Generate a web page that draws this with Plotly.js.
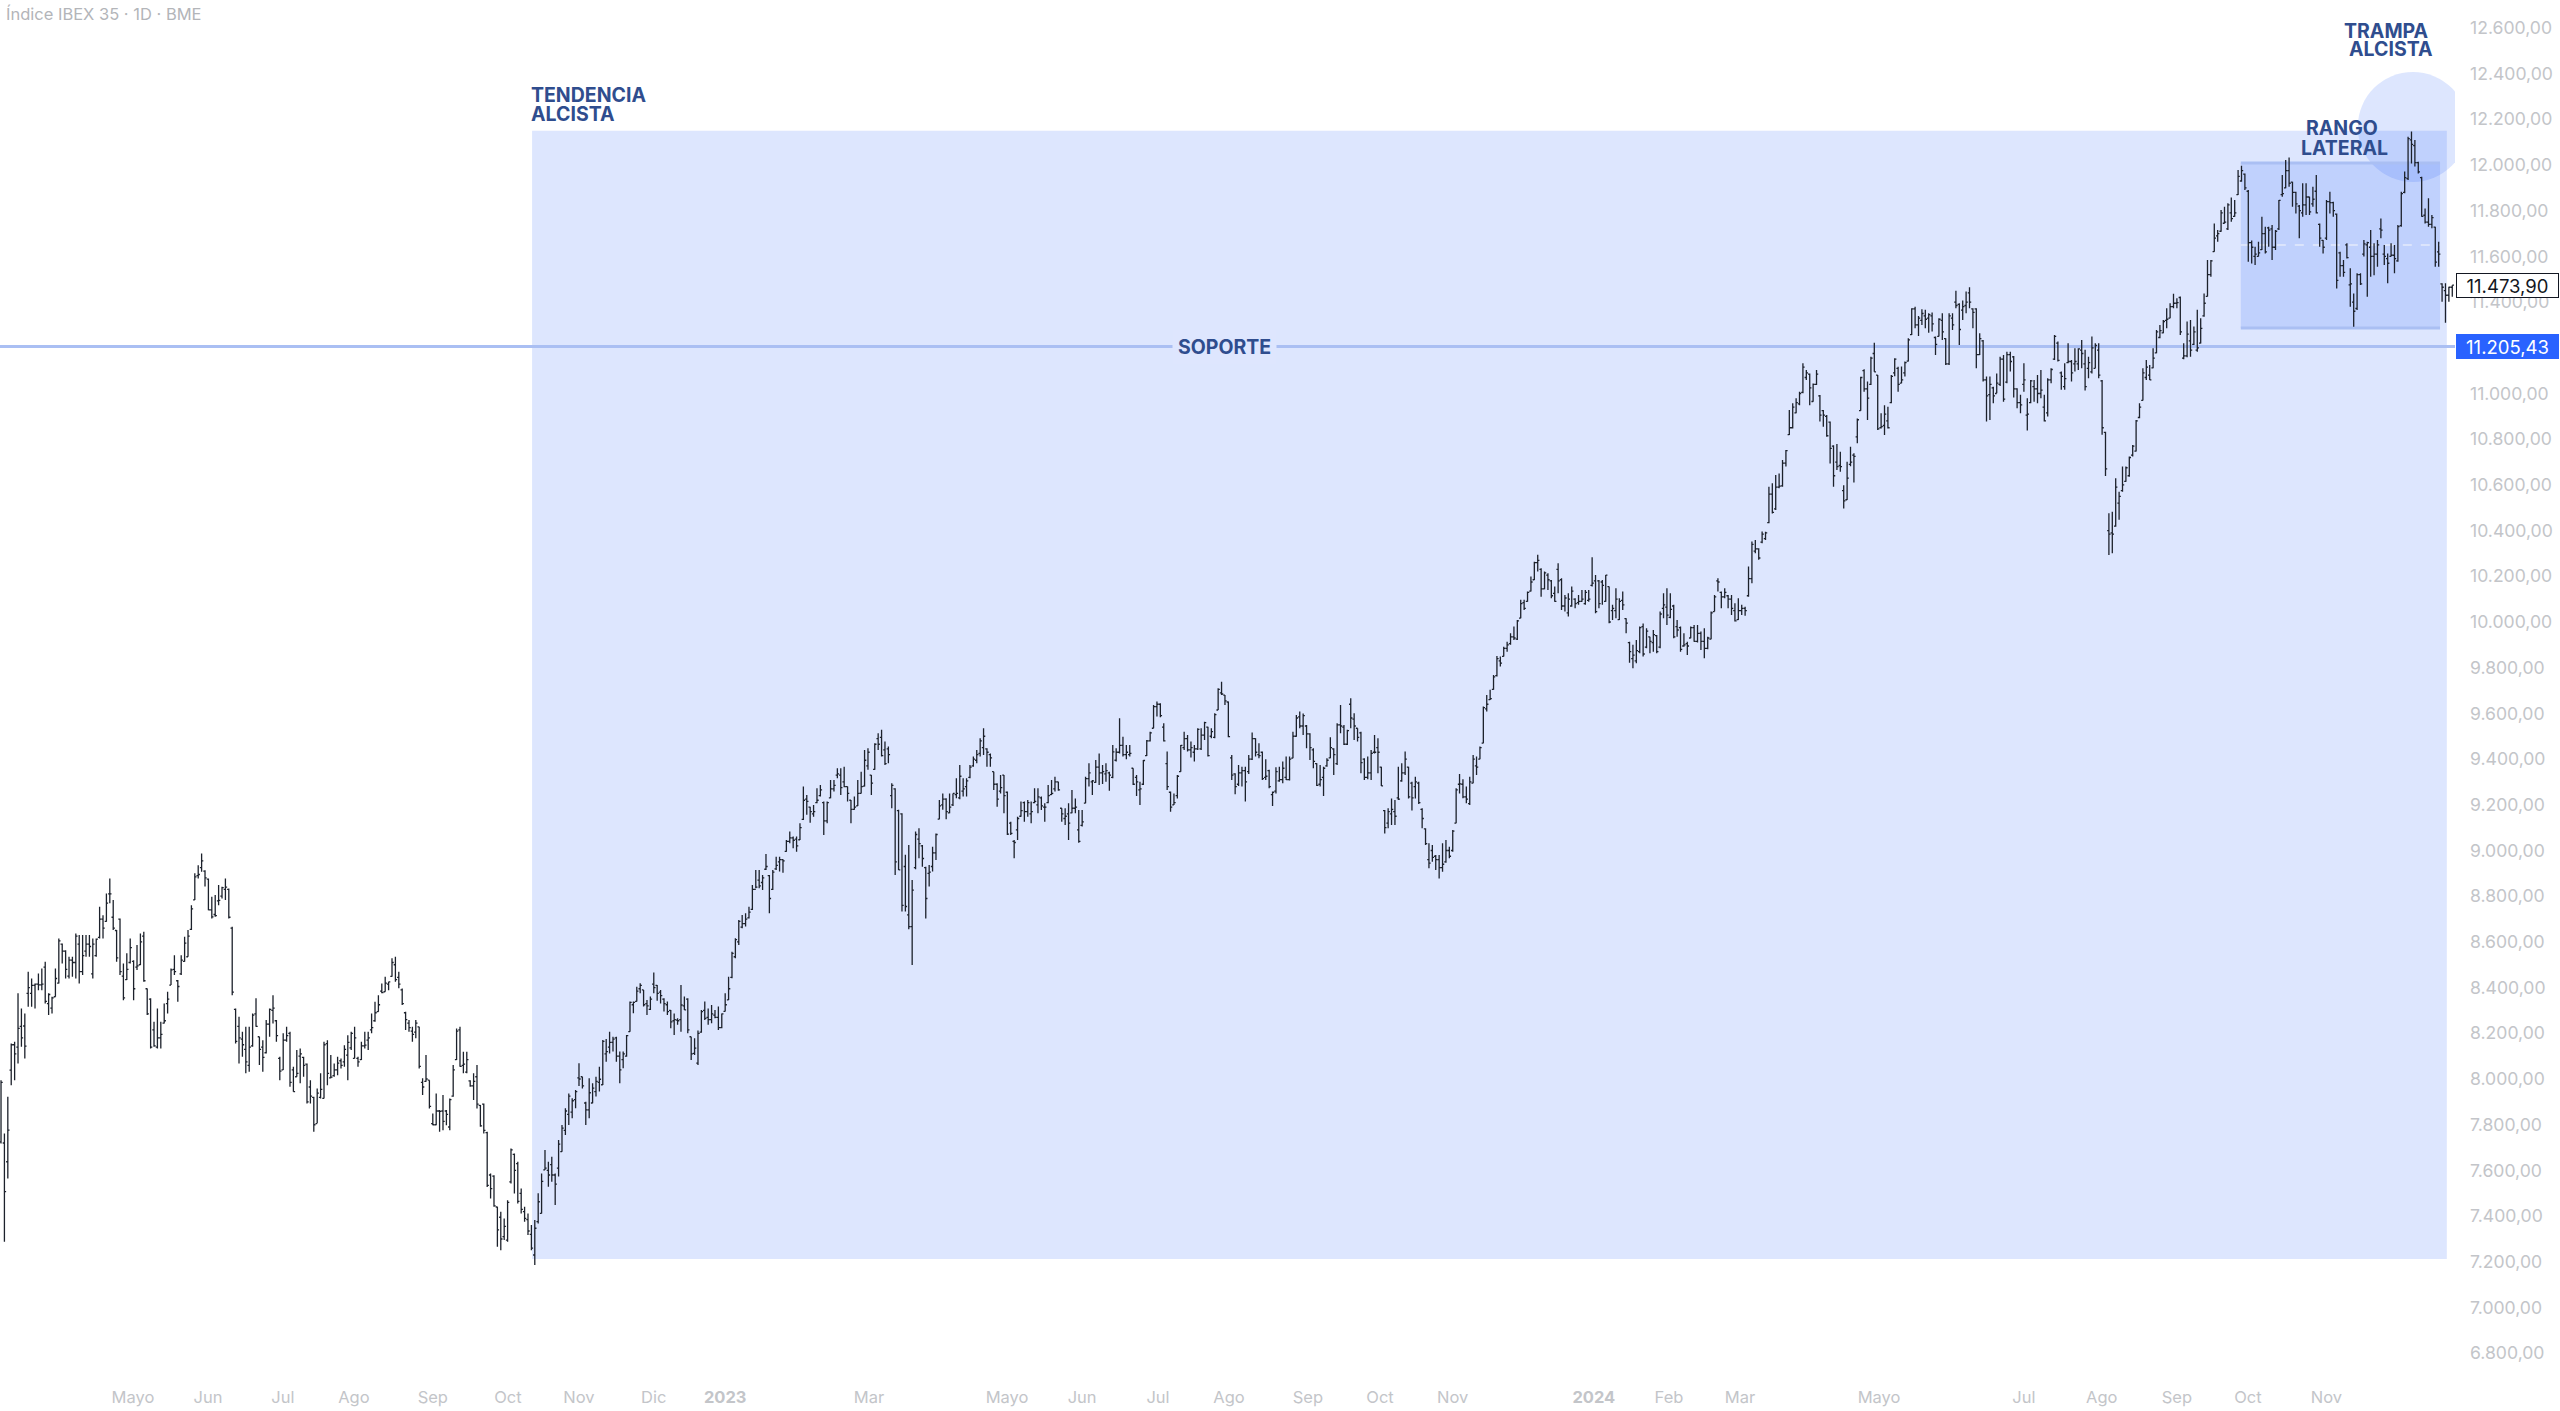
<!DOCTYPE html>
<html><head><meta charset="utf-8"><script src="https://cdn.plot.ly/plotly-3.0.1.min.js"></script>
<style>html,body{margin:0;padding:0;background:#fff}#c{width:2560px;height:1411px}</style></head><body><div id="c"></div><script>
// Each row holds bars as open,high,low,close.
const tramo2022a=[
7725,7995,7718,7985,7720,7762,7288,7507,7638,7922,7565,7776,8039,8156,7973,8150,8150,8163,7995,8110,8140,8375,8068,8222,8230,8309,8141,8180,8232,8287,8090,8144,8375,8470,8316,8400,8375,8440,8316,8410,
8410,8418,8309,8415,8415,8462,8389,8412,8412,8484,8389,8415,8490,8513,8331,8340,8330,8375,8280,8370,8310,8360,8287,8355,8360,8484,8360,8440,8420,8615,8418,8605,8590,8593,8506,8560,8560,8564,8440,8480,
8450,8535,8440,8520,8520,8535,8448,8510,8510,8637,8440,8625,8590,8630,8418,8470,8470,8630,8455,8540,8560,8630,8535,8590,8590,8630,8535,8580,8460,8615,8440,8590,8540,8615,8535,8612,8620,8754,8615,8700,
8700,8717,8615,8660,8690,8812,8688,8770,8810,8878,8769,8810,8708,8783,8652,8660,8650,8652,8513,8530,8700,8703,8455,8470,8450,8506,8345,8355,8435,8550,8433,8480,8510,8615,8506,8575,8515,8520,8345,8395,
8490,8586,8477,8495,8500,8637,8499,8600,8625,8645,8426,8430,8395,8396,8280,8285,8350,8353,8134,8140,8215,8251,8141,8145,8140,8309,8134,8180,8180,8251,8134,8195,8245,8331,8243,8255,8330,8382,8287,8350,
8411,8484,8411,8478,8480,8542,8455,8470,8430,8433,8338,8405,8460,8542,8455,8520,8515,8623,8513,8595,8535,8652,8535,8625,8655,8761,8652,8745,8784,8900,8783,8885,8890,8936,8878,8895,8925,8987,8907,8955,
8910,8914,8842,8880,8875,8878,8739,8740,8740,8798,8703,8710,8720,8805,8710,8715,8780,8849,8761,8782,8800,8841,8790,8838,8830,8878,8783,8840,8830,8834,8703,8708,8660,8666,8367,8380];
const tramo2022b=[
8305,8309,8156,8165,8230,8272,8068,8180,8175,8207,8097,8150,8130,8229,8025,8075,8060,8229,8032,8140,8145,8287,8141,8280,8285,8353,8229,8230,8185,8185,8061,8130,8140,8170,8032,8095,8115,8258,8112,8240,
8240,8309,8185,8305,8300,8367,8243,8310,8255,8258,8163,8190,8090,8097,7995,8035,8040,8200,8039,8170,8170,8229,8163,8190,8200,8207,7966,7985,8040,8054,7944,7945,8010,8127,8010,8025,8100,8134,7981,8110,
8095,8097,8010,8060,8065,8068,7893,7900,7965,7995,7893,7925,7920,7922,7769,7800,7805,7959,7806,7938,7920,8025,7915,7955,7915,8163,7915,8150,8155,8170,7973,8025,8005,8105,8003,8008,8015,8068,8010,8040,
8040,8097,8017,8070,8080,8090,8046,8060,8075,8148,8054,8130,8105,8192,7995,8160,8136,8207,8127,8200,8090,8229,8090,8180,8090,8097,8054,8075,8085,8163,8083,8145,8145,8207,8134,8148,8170,8207,8127,8180,
8215,8287,8200,8225,8255,8338,8251,8290,8295,8367,8294,8325,8385,8418,8375,8378,8382,8448,8382,8420,8415,8426,8389,8425,8449,8528,8448,8510,8500,8535,8426,8435,8445,8469,8397,8415,8390,8396,8324,8330,
8290,8294,8214,8260,8245,8258,8207,8225,8210,8229,8163,8195,8205,8258,8178,8245,8228,8229,8046,8055,7985,8003,7930,7965,7990,8105,7988,8000,7995,7995,7871,7880,7805,7849,7798,7800,7800,7937,7798,7860,
7860,7864,7769,7858,7860,7930,7776,7815,7860,7864,7798,7845,7790,7915,7776,7910,7925,8061,7922,8040,8085,8221,8083,8210,8215,8229,8054,8055,8060,8119,8025,8065,8030,8119,8025,8085,7992,7995,7966,7970,
7970,8025,7908,7990,8010,8061,7871,7890,7885,7886,7791,7795,7890,7893,7762,7775,7765,7769,7528,7535,7580,7587,7477,7520,7575,7579,7441,7445,7440,7441,7266,7340,7395,7419,7251,7300,7310,7390,7295,7355,
7295,7470,7288,7460,7550,7696,7543,7690,7670,7674,7499,7600,7630,7638,7455,7465,7500,7521,7412,7430,7420,7441,7375,7390,7385,7412,7317,7335,7320,7361,7251,7260,7230,7383,7186,7347];
const tramo2023a=[
7376,7500,7368,7463,7412,7587,7412,7552,7602,7689,7602,7610,7600,7638,7529,7580,7625,7660,7551,7580,7580,7587,7449,7540,7610,7733,7573,7715,7682,7799,7682,7785,7775,7872,7755,7860,7845,7937,7799,7925,
7855,7916,7828,7905,7910,7952,7872,7945,8005,8069,7969,8000,8010,8010,7959,7970,7895,7901,7799,7865,7865,8003,7828,7940,7895,7981,7894,7960,7945,8010,7923,7990,7985,8054,7945,7999,7975,8171,7974,8165,
8110,8175,8076,8120,8140,8207,8112,8160,8160,8185,8120,8175,8180,8185,8076,8100,8100,8120,7981,8040,8085,8120,8047,8110,8100,8193,8098,8190,8207,8339,8207,8335,8325,8339,8288,8335,8340,8404,8339,8385,
8395,8419,8375,8410,8390,8390,8317,8325,8330,8346,8280,8320,8305,8361,8302,8350,8415,8466,8375,8400,8410,8412,8343,8375,8380,8390,8331,8365,8350,8353,8295,8330,8325,8339,8280,8295,8300,8302,8222,8250,
8255,8287,8193,8260,8258,8266,8237,8255,8260,8412,8207,8324,8320,8361,8302,8303,8350,8353,8200,8215,8185,8185,8083,8110,8112,8178,8105,8135,8070,8212,8061,8200,8205,8302,8203,8295,8300,8339,8258,8265,
8270,8309,8237,8260,8260,8324,8244,8285,8280,8302,8266,8270,8270,8317,8215,8225,8225,8287,8222,8285,8296,8375,8295,8325,8346,8448,8346,8395,8445,8557,8441,8550,8535,8616,8528,8610,8600,8696,8587,8690,
8665,8718,8660,8680,8680,8725,8667,8700,8705,8754,8703,8730,8742,8849,8740,8830,8830,8915,8835,8840,8870,8915,8835,8845,8860,8893,8827,8880,8918,8985,8915,8930,8890,8893,8725,8790,8830,8915,8827,8905,
8920,8973,8915,8935,8950,8973,8908,8960,8960,8962,8903,8955,8996,9046,8995,9040,9040,9083,9032,9055,9055,9061,9010,9045,9050,9061,8995,9020,9047,9119,9046,9100,9136,9280,9134,9220,9225,9243,9156,9215,
9190,9192,9122,9170,9160,9199,9148,9170,9210,9272,9207,9220,9240,9287,9236,9265,9210,9214,9068,9130,9130,9214,9119,9210,9230,9309,9229,9270,9270,9309,9258,9285,9330,9360,9316,9335,9330,9360,9243,9275];
const tramo2023b=[
9300,9367,9277,9280,9280,9280,9214,9250,9220,9221,9119,9180,9180,9236,9178,9190,9195,9309,9195,9250,9250,9345,9250,9280,9282,9440,9280,9395,9370,9447,9353,9430,9330,9331,9243,9295,9355,9469,9353,9465,
9490,9513,9440,9465,9495,9528,9411,9415,9440,9477,9374,9380,9445,9455,9382,9420,9240,9294,9185,9285,9270,9272,8893,8950,9175,9178,8915,8915,9160,9163,8733,8760,8930,8981,8733,8755,8718,9024,8655,8667,
8667,8871,8499,8827,8925,9083,8918,9070,9050,9097,8966,9030,9020,9024,8929,8965,8925,8929,8703,8790,8900,8937,8842,8905,8930,9017,8908,8990,8990,9075,8959,9070,9137,9221,9137,9195,9200,9250,9178,9225,
9225,9229,9137,9170,9165,9250,9163,9190,9200,9250,9195,9250,9245,9316,9229,9250,9230,9374,9224,9325,9260,9316,9236,9270,9280,9316,9236,9305,9320,9374,9316,9365,9370,9411,9367,9400,9395,9440,9382,9420,
9425,9491,9411,9480,9450,9535,9418,9500,9445,9447,9367,9430,9420,9425,9367,9405,9345,9345,9265,9290,9290,9294,9192,9225,9260,9331,9250,9275,9330,9331,9163,9240,9255,9258,9068,9072,9120,9126,9068,9075,
9040,9046,8966,9035,9090,9148,9046,9140,9150,9214,9148,9175,9210,9214,9126,9170,9170,9221,9148,9210,9160,9214,9119,9170,9210,9272,9207,9215,9200,9272,9163,9235,9230,9236,9177,9195,9190,9207,9126,9190,
9210,9287,9207,9240,9245,9309,9243,9250,9270,9323,9258,9300,9300,9301,9262,9265,9185,9185,9126,9160,9140,9185,9112,9150,9160,9207,9046,9120,9165,9265,9163,9185,9185,9228,9163,9190,9090,9177,9034,9040,
9110,9177,9105,9125,9207,9323,9207,9315,9315,9382,9280,9340,9300,9309,9243,9305,9298,9396,9297,9365,9365,9425,9287,9340,9340,9374,9291,9345,9335,9382,9301,9350,9340,9345,9262,9330,9320,9462,9316,9432,
9395,9447,9389,9430,9430,9579,9425,9460,9460,9498,9411,9420,9420,9462,9399,9430,9420,9462,9411,9425,9360,9360,9287,9290,9320,9331,9239,9300,9265,9301,9199,9270,9290,9396,9287,9394,9415,9484,9414,9480,
9480,9520,9477,9515,9535,9637,9535,9630,9630,9652,9586,9640,9640,9644,9583,9590,9540,9557,9477,9480,9380,9433,9265,9280,9255,9258,9170,9190,9200,9250,9199,9210,9240,9331,9228,9325,9345,9462,9345,9460];
const tramo2023c=[
9450,9520,9440,9490,9490,9506,9433,9440,9440,9477,9407,9450,9430,9462,9389,9445,9445,9535,9440,9530,9445,9535,9440,9505,9505,9564,9484,9560,9540,9542,9411,9415,9500,9535,9491,9520,9495,9601,9491,9595,
9615,9710,9615,9705,9690,9739,9681,9685,9680,9681,9637,9655,9650,9652,9496,9498,9405,9418,9309,9330,9335,9338,9246,9280,9290,9374,9282,9340,9340,9367,9280,9350,9350,9367,9214,9300,9345,9418,9335,9400,
9400,9516,9396,9490,9490,9491,9411,9430,9420,9469,9404,9415,9430,9433,9309,9315,9320,9399,9309,9325,9350,9353,9272,9280,9245,9258,9195,9255,9260,9364,9250,9345,9305,9367,9301,9310,9310,9389,9294,9360,
9320,9411,9309,9310,9310,9411,9306,9400,9404,9520,9404,9500,9500,9593,9498,9580,9585,9608,9535,9545,9545,9600,9506,9590,9545,9549,9447,9510,9510,9513,9396,9450,9440,9447,9360,9390,9380,9382,9282,9285,
9290,9374,9280,9310,9320,9367,9239,9360,9370,9404,9367,9395,9405,9496,9404,9450,9445,9447,9331,9420,9380,9557,9374,9550,9550,9637,9513,9545,9540,9549,9462,9465,9465,9528,9462,9525,9640,9666,9535,9580,
9575,9601,9484,9545,9535,9535,9477,9495,9515,9520,9338,9385,9400,9404,9309,9320,9320,9411,9312,9340,9340,9440,9309,9425,9430,9506,9425,9430,9450,9491,9338,9430,9365,9367,9282,9283,9175,9177,9075,9100,
9120,9185,9097,9170,9160,9228,9112,9180,9170,9221,9112,9150,9230,9367,9221,9225,9305,9382,9301,9340,9340,9433,9331,9400,9365,9367,9228,9235,9295,9301,9175,9230,9280,9323,9228,9300,9295,9301,9204,9210,
9180,9185,9097,9140,9095,9097,9024,9030,8960,9032,8922,8945,9000,9024,8951,8970,8975,8980,8915,8960,8960,8980,8878,8925,8925,9032,8907,8940,8950,9046,8947,9000,9000,9017,8966,8975,9000,9090,8995,9085,
9120,9272,9119,9265,9290,9335,9250,9292,9290,9312,9229,9235,9235,9280,9207,9225,9205,9323,9199,9300,9295,9418,9294,9400,9370,9411,9331,9365,9400,9455,9399,9450,9470,9630,9469,9625,9620,9681,9608,9640,
9660,9703,9659,9665,9705,9768,9703,9760,9765,9851,9761,9840,9830,9849,9805,9820,9850,9892,9849,9885,9885,9914,9870,9900,9905,9951,9900,9935,9935,9980,9921,9930,9925,10009,9921,10005,10017,10097,10016,10080,
10085,10097,10053,10060,10090,10133,10089,10130,10135,10199,10133,10175,10185,10264,10184,10260,10260,10294,10221,10270,10230,10235,10111,10145,10145,10221,10143,10215,10205,10213,10140,10185,10180,10184,10104,10115,10125,10155,10089,10090,
10230,10257,10126,10180,10185,10191,10053,10070,10070,10118,10046,10105,10040,10126,10024,10100,10070,10155,10067,10135,10100,10104,10060,10080,10085,10118,10075,10090,10090,10140,10089,10100,10080,10140,10075,10130,10095,10140,10089,10100];
const tramo2024a=[
10160,10283,10155,10170,10180,10206,10038,10045,10180,10184,10060,10080,10175,10184,10075,10160,10090,10206,10089,10205,10155,10155,9995,10000,10050,10075,10009,10060,10050,10148,10016,10100,10010,10104,10009,10090,10095,10133,10053,10075,
10015,10016,9951,9995,9910,9914,9822,9870,9840,9900,9798,9855,9830,9921,9819,9875,9870,9980,9863,9975,9980,9994,9849,9860,9890,9973,9885,9960,9935,9936,9863,9915,9910,9965,9870,9945,9940,9943,9863,9870,
9890,10046,9885,10035,10060,10126,10016,10075,10065,10148,9987,10030,10020,10126,10016,10055,10070,10075,9929,9935,9980,10009,9936,9965,9975,9980,9870,9880,9895,9951,9892,9900,9905,9914,9856,9895,9930,9980,9929,9975,
9975,9987,9914,9915,9915,9987,9910,9950,9950,9958,9878,9915,9915,9973,9841,9885,9885,9936,9881,9930,9925,10046,9924,10040,10045,10118,10046,10110,10180,10191,10133,10175,10130,10133,10060,10110,10110,10148,10104,10130,
10115,10118,10060,10100,10100,10118,10031,10060,10050,10082,10002,10005,10010,10104,10009,10050,10050,10075,10031,10060,10060,10067,10027,10050,10115,10243,10111,10190,10190,10352,10170,10340,10310,10359,10301,10320,10320,10323,10272,10280,
10350,10396,10345,10385,10365,10395,10359,10390,10435,10592,10432,10560,10560,10607,10475,10480,10495,10643,10490,10590,10590,10650,10585,10595,10596,10709,10592,10695,10695,10753,10680,10750,10820,10928,10818,10850,10850,10957,10847,10940,
10915,10979,10913,10960,10955,11008,10949,11000,11005,11132,11001,11115,11070,11103,11059,11090,11085,11088,10949,11025,10965,11044,10964,11040,11040,11103,11037,11085,10990,10993,10877,10905,10925,10928,10855,10905,10900,10906,10811,10815,
10875,10877,10694,10760,10770,10774,10592,10640,10700,10779,10665,10680,10685,10745,10658,10680,10575,10599,10497,10530,10535,10701,10534,10630,10690,10767,10682,10700,10730,10738,10610,10725,10810,10891,10782,10885,10925,11073,10925,11070,
11100,11106,11008,11020,11020,11052,10884,10980,11040,11161,11037,11155,11175,11222,11095,11095,11080,11081,10840,10845,10850,10913,10847,10855,10860,10949,10818,10910,10880,10942,10847,10850,10960,11081,10957,11075,11090,11154,11076,11150,11110,11117,11008,11040];
const tramo2024b=[
11045,11118,11045,11060,11090,11140,11074,11135,11142,11242,11140,11235,11258,11373,11256,11370,11370,11380,11285,11300,11300,11339,11252,11330,11320,11369,11300,11350,11340,11366,11285,11325,11330,11351,11266,11345,11340,11354,11271,11305,
11245,11249,11169,11215,11250,11329,11249,11325,11320,11351,11234,11270,11240,11242,11125,11130,11130,11351,11125,11340,11330,11351,11278,11300,11400,11450,11373,11385,11390,11395,11212,11280,11365,11407,11322,11380,11385,11446,11351,11400,
11440,11465,11373,11400,11370,11373,11285,11355,11370,11373,11110,11170,11170,11264,11169,11240,11230,11234,11052,11060,11060,11074,10877,10990,10995,11074,10884,11040,11025,11030,10957,10990,11000,11088,11001,11045,11040,11161,11033,11150,
11150,11169,10964,10975,11050,11183,11045,11170,11170,11183,11096,11140,11160,11164,10983,11020,11020,11023,10935,10960,10960,10994,10913,10950,11040,11132,11008,11060,10905,10979,10838,10910,10960,11059,10957,11055,11030,11059,10964,11020,
11020,11081,10957,11000,11000,11103,10979,11015,10940,10994,10877,10880,10915,11067,10899,11060,11060,11110,11045,11105,11150,11256,11147,11250,11220,11227,11140,11145,11090,11096,11016,11075,11030,11132,11016,11065,11135,11220,11132,11140,
11140,11147,11052,11090,11130,11198,11096,11140,11130,11198,11103,11195,11190,11234,11110,11175,11130,11191,11013,11030,11110,11161,11067,11135,11095,11249,11088,11200,11110,11220,11110,11210,11190,11220,11067,11080,
11055,11059,10819,10850,10830,10833,10639,10670,10400,10476,10293,10385,10390,10483,10301,10385,10420,10629,10417,10590,10520,10570,10447,10550,10575,10680,10570,10600,10615,10680,10614,10675,10640,10724,10636,10720,10730,10775,10724,10770,
10748,10884,10746,10880,10895,10957,10892,10940,10970,11110,10969,11090,11070,11147,11059,11115,11080,11125,11059,11060,11112,11198,11110,11155,11178,11278,11176,11270,11245,11300,11242,11275,11265,11322,11264,11315,11320,11373,11285,11325,
11330,11395,11329,11380,11380,11436,11373,11395,11395,11417,11373,11398,11420,11424,11256,11270,11155,11220,11150,11165,11165,11315,11159,11260,11230,11322,11161,11190,11215,11293,11212,11270,11190,11366,11183,11200];
const tramoFinal=[
11220,11329,11219,11285,11340,11438,11336,11395,11425,11584,11424,11520,11520,11584,11511,11580,11621,11744,11620,11680,11690,11715,11664,11700,11710,11803,11708,11790,11745,11817,11744,11750,11720,11832,11715,11825,11790,11858,11752,11765,
11775,11847,11774,11790,11870,11978,11869,11950,11930,11997,11927,11975,11960,11963,11890,11900,11885,11890,11577,11660,11660,11669,11569,11640,11600,11642,11562,11610,11600,11664,11599,11615,11630,11774,11628,11700,11700,11730,11613,11620,
11725,11730,11642,11715,11720,11737,11584,11640,11640,11715,11628,11710,11720,11847,11715,11845,11870,11956,11861,11875,11900,12022,11898,11975,11975,12033,11905,11920,11925,11927,11817,11880,11880,11883,11788,11830,11820,11825,11679,11800,
11790,11920,11774,11825,11825,11920,11781,11860,11860,11861,11781,11795,11830,11905,11817,11850,11885,11956,11788,11790,11740,11744,11642,11680,11670,11672,11613,11640,11680,11847,11672,11840,11840,11883,11788,11835,11835,11839,11774,11800,
11785,11788,11460,11495,11615,11620,11511,11560,11560,11584,11511,11530,11650,11657,11591,11595,11475,11548,11380,11480,11400,11438,11292,11360,11372,11526,11365,11520,11520,11526,11475,11480,11610,11672,11599,11655,11650,11664,11423,11660,
11640,11715,11511,11600,11600,11657,11518,11610,11610,11672,11555,11650,11720,11766,11679,11715,11610,11650,11562,11600,11590,11613,11482,11570,11600,11657,11599,11605,11605,11650,11526,11590,11580,11737,11577,11730,11735,11883,11730,11875,
11880,11971,11876,11945,11940,12124,11934,12115,12110,12146,12007,12090,12085,12109,11993,12010,12010,12014,11963,11970,11945,11949,11774,11775,11780,11810,11744,11750,11750,11854,11730,11740,11740,11781,11723,11770,11728,11730,11555,11575,
11620,11664,11555,11610,11480,11482,11402,11465,11450,11482,11310,11430,11430,11467,11402,11465,11465,11474,11423,11473.9];
const supportLevel=11205.43, lastPrice=11473.90;
const monthTicks=[38.8,60.9,82.9,103.8,127,149.1,170,192,213,255.3,295.9,318,340.3,361.2,384.4,405.6,427,468.5,490.6,511.5,552.4,595,617.9,640,660.9,684];
const monthLabels=['Mayo','Jun','Jul','Ago','Sep','Oct','Nov','Dic','<b>2023</b>','Mar','Mayo','Jun','Jul','Ago','Sep','Oct','Nov','<b>2024</b>','Feb','Mar','Mayo','Jul','Ago','Sep','Oct','Nov'];
const priceTicks=[6800,7000,7200,7400,7600,7800,8000,8200,8400,8600,8800,9000,9200,9400,9600,9800,10000,10200,10400,10600,10800,11000,11200,11400,11600,11800,12000,12200,12400,12600];
const allBars=[].concat(tramo2022a,tramo2022b,tramo2023a,tramo2023b,tramo2023c,tramo2024a,tramo2024b,tramoFinal);
const xs=[],opens=[],highs=[],lows=[],closes=[];
for(let k=0;k+3<allBars.length;k+=4){xs.push(k/4);opens.push(allBars[k]);highs.push(allBars[k+1]);lows.push(allBars[k+2]);closes.push(allBars[k+3]);}
const fmt=v=>{const s=v.toFixed(2).split('.');return s[0].replace(/\B(?=(\d{3})+$)/g,'.')+','+s[1]};
const F='Inter, sans-serif',NAVY='#2f4d8e',GREY='#c3c5c9',BAND='rgba(41,95,250,0.155)',EDGE='#aabff3',INK='#1c212b';
const lab=(t,x,y,extra)=>Object.assign({text:'<b>'+t+'</b>',x,y,xref:'x',yref:'y',showarrow:false,font:{family:F,size:19.5,color:NAVY},xanchor:'left',yanchor:'middle'},extra||{});
const xEnd=721.8;
Plotly.newPlot('c',[{type:'ohlc',x:xs,open:opens,high:highs,low:lows,close:closes,tickwidth:0.5,
 increasing:{line:{color:INK,width:1.3}},decreasing:{line:{color:INK,width:1.3}},hoverinfo:'skip',showlegend:false}],{
 width:2560,height:1411,margin:{l:0,r:105,t:0,b:26,pad:0},paper_bgcolor:'#fff',plot_bgcolor:'#fff',showlegend:false,
 title:{text:'Índice IBEX 35 · 1D · BME',x:6/2560,xanchor:'left',y:1-14/1411,yanchor:'middle',font:{family:F,size:16.5,color:'#b3b5b9'}},
 xaxis:{range:[-0.3,xEnd],tickmode:'array',tickvals:monthTicks,ticktext:monthLabels,showgrid:false,zeroline:false,showline:false,ticks:'',rangeslider:{visible:false},tickfont:{family:F,size:16.5,color:GREY},automargin:false},
 yaxis:{range:[6661,12722],side:'right',tickmode:'array',tickvals:priceTicks,ticktext:priceTicks.map(fmt),showgrid:false,zeroline:false,showline:false,ticks:'',ticklabelstandoff:14,tickfont:{family:F,size:17.6,color:GREY},automargin:false},
 shapes:[
  {type:'rect',layer:'below',x0:156.2,x1:719.4,y0:7212,y1:12150,line:{width:0},fillcolor:BAND},
  {type:'circle',layer:'below',x0:693.2,x1:725.6,y0:11926,y1:12407,line:{width:0},fillcolor:BAND},
  {type:'rect',layer:'below',x0:658.8,x1:717.4,y0:11287,y1:12009,line:{width:0},fillcolor:BAND},
  {type:'line',layer:'below',x0:658.8,x1:717.4,y0:12009,y1:12009,line:{width:3,color:EDGE}},
  {type:'line',layer:'below',x0:658.8,x1:717.4,y0:11287,y1:11287,line:{width:3,color:EDGE}},
  {type:'line',layer:'below',x0:658.8,x1:717.4,y0:11650,y1:11650,line:{width:1.5,color:'#e4eafc',dash:'dash'}},
  {type:'line',layer:'below',x0:-0.3,x1:xEnd,y0:supportLevel,y1:supportLevel,line:{width:3,color:EDGE}}
 ],
 annotations:[
  lab('TENDENCIA',155.3,12306),lab('ALCISTA',155.3,12223),
  lab('TRAMPA',688.5,12586),lab('ALCISTA',690,12508),
  lab('RANGO',677.4,12164),lab('LATERAL',675.9,12075),
  lab('SOPORTE',360,supportLevel,{xanchor:'center',bgcolor:'#dee6fe',borderpad:5}),
  {text:fmt(lastPrice),xref:'paper',x:1.0,xshift:1,xanchor:'left',yref:'y',y:lastPrice,showarrow:false,font:{family:F,size:18.5,color:'#131722'},bgcolor:'#fff',bordercolor:'#131722',borderwidth:1,width:99,height:21},
  {text:fmt(supportLevel),xref:'paper',x:1.0,xshift:1,xanchor:'left',yref:'y',y:supportLevel,showarrow:false,font:{family:F,size:18.5,color:'#fff'},bgcolor:'#2962ff',bordercolor:'#2962ff',borderwidth:1,width:99,height:21}
 ]
},{displayModeBar:false,staticPlot:true});
</script></body></html>
